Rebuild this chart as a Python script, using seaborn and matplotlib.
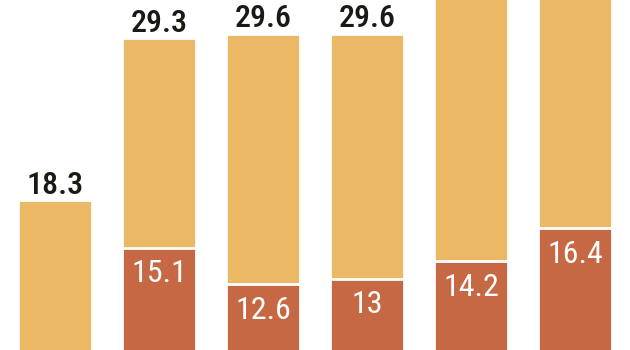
import matplotlib
matplotlib.use("Agg")
import matplotlib.pyplot as plt
import matplotlib.font_manager as fm
import seaborn as sns
import pandas as pd
import numpy as np

categories = ["A", "B", "C", "D", "E", "F"]
total_values = [18.3, 29.3, 29.6, 29.6, 33.4, 34.6]
lower_values = [np.nan, 15.1, 12.6, 13.0, 14.2, 16.4]
total_labels = ["18.3", "29.3", "29.6", "29.6", "", ""]
lower_labels = ["", "15.1", "12.6", "13", "14.2", "16.4"]

YELLOW = "#EBB866"
RED = "#C56843"

sns.set_theme(style="white")
names = {f.name for f in fm.fontManager.ttflist}
font = "DejaVu Sans"
for cand in ["Liberation Sans Narrow", "DejaVu Sans Condensed", "Roboto Condensed", "Roboto"]:
    if cand in names:
        font = cand
        break
plt.rcParams["font.family"] = [font, "DejaVu Sans"]

df = pd.DataFrame({"cat": categories, "total": total_values, "lower": lower_values})

fig = plt.figure(figsize=(6.3, 3.5), dpi=100)
ax = fig.add_axes([0, 0, 1, 1])
sns.barplot(data=df, x="cat", y="total", color=YELLOW, saturation=1, width=0.72,
            edgecolor="white", linewidth=2, ax=ax, order=categories)
sns.barplot(data=df, x="cat", y="lower", color=RED, saturation=1, width=0.72,
            edgecolor="white", linewidth=2, ax=ax, order=categories)

ax.set_xlim(-0.529, 5.529)
ax.set_ylim(8.15, 31.9)
ax.axis("off")

for i, (t, lab) in enumerate(zip(total_values, total_labels)):
    if lab:
        ax.annotate(lab, (i, t), xytext=(0, 0.5), textcoords="offset points",
                    ha="center", va="bottom", fontsize=23, color="#1a1a14",
                    fontweight="medium")
for i, (v, lab) in enumerate(zip(lower_values, lower_labels)):
    if lab:
        ax.annotate(lab, (i, v), xytext=(0, -8.5), textcoords="offset points",
                    ha="center", va="top", fontsize=23, color="white")

fig.savefig("out.png", dpi=100)
